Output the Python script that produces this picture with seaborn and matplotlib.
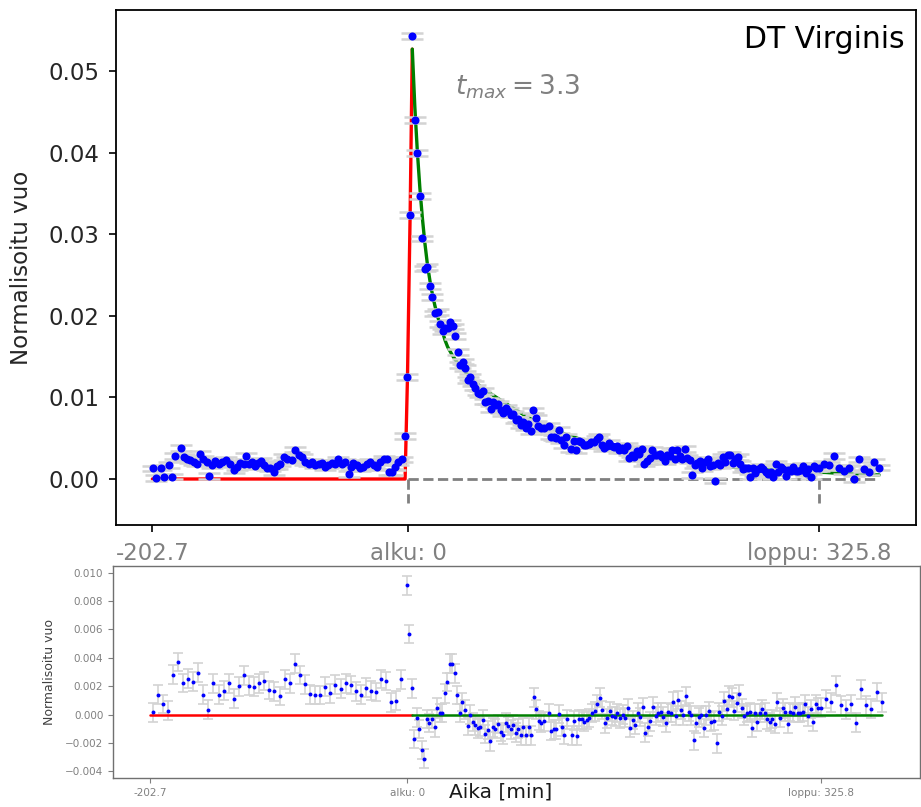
import numpy as np
import pandas as pd
import matplotlib
matplotlib.use("Agg")
import matplotlib.pyplot as plt
import seaborn as sns

nan = np.nan

# ---------------- data ----------------
TICK_T = [-202.7, 0.0, 325.8]
TICK_LABELS = ["-202.7", "alku: 0", "loppu: 325.8"]
T_MAX = 3.3
STAR = "DT Virginis"

# top panel, quiescent part before the flare (time [min], normalised flux)
top_pre_t = [-202.2, -199.5, -195.8, -193.2, -189.8, -187.1, -184.5, -180.0, -177.9, -175.2,
             -172.6, -170.0, -167.3, -164.7, -162.6, -159.4, -157.5, -155.3, -152.8, -150.2,
             -147.5, -144.1, -141.5, -138.3, -135.7, -133.0, -130.4, -128.3, -126.4, -123.8,
             -121.1, -119.3, -116.6, -114.0, -111.9, -109.3, -106.6, -104.0, -101.3, -98.7,
             -96.1, -92.1, -89.5, -86.8, -84.2, -81.6, -78.9, -76.3, -73.6, -71.0,
             -68.4, -65.7, -63.1, -60.4, -57.8, -55.2, -52.5, -49.9, -47.2, -45.4,
             -43.3, -40.6, -38.0, -35.4, -32.7, -30.1, -27.4, -24.8, -22.2, -19.5,
             -16.9, -14.8, -12.9, -10.3, -7.7, -5.0, -2.7]
top_pre_f = [0.0013, 0.0001, 0.0014, 0.0003, 0.0017, 0.0003, 0.0028, 0.0038, 0.0027, 0.0025,
             0.0023, 0.0021, 0.0019, 0.0031, 0.0025, 0.0021, 0.0004, 0.0017, 0.0022, 0.0019,
             0.0021, 0.0023, 0.0019, 0.0011, 0.0015, 0.0020, 0.0018, 0.0028, 0.0019, 0.0021,
             0.0016, 0.0020, 0.0022, 0.0017, 0.0014, 0.0013, 0.0009, 0.0016, 0.0019, 0.0027,
             0.0024, 0.0023, 0.0036, 0.0029, 0.0027, 0.0021, 0.0019, 0.0021, 0.0017, 0.0018,
             0.0020, 0.0015, 0.0017, 0.0020, 0.0018, 0.0024, 0.0019, 0.0021, 0.0006, 0.0015,
             0.0020, 0.0017, 0.0013, 0.0015, 0.0019, 0.0021, 0.0017, 0.0015, 0.0021, 0.0025,
             0.0024, 0.0009, 0.0009, 0.0015, 0.0021, 0.0024, 0.0053]

# flare rise / peak points
flare_t = [-0.7, 1.3, 3.3]
top_flare_f = [0.0125, 0.0324, 0.0543]
res_flare = [0.0091, 0.0057, 0.00185]

# decay phase, 2-min cadence from 5.3 to 325.3 min
top_decay_f = [0.0440, 0.0400, 0.0347, 0.0295, 0.0258, 0.0260, 0.0237, 0.0223, 0.0203, 0.0205,
               0.0190, 0.0181, 0.0185, 0.0185, 0.0192, 0.0187, 0.0175, 0.0156, 0.0140, 0.0144,
               0.0136, 0.0121, 0.0125, 0.0117, 0.0112, 0.0106, 0.0104, 0.0108, 0.0095, 0.0096,
               0.0086, 0.0094, 0.0091, 0.0092, 0.0085, 0.0081, 0.0087, 0.0083, 0.0079, 0.0080,
               0.0072, 0.0073, 0.0066, 0.0070, 0.0063, 0.0068, 0.0059, 0.0084, 0.0075, 0.0065,
               0.0062, 0.0062, nan, 0.0065, 0.0052, 0.0051, 0.0050, 0.0060, 0.0048, 0.0042,
               0.0052, nan, 0.0037, 0.0047, 0.0035, 0.0046, 0.0045, 0.0042, 0.0042, 0.0043,
               0.0045, 0.0045, 0.0049, 0.0052, 0.0042, 0.0038, 0.0040, 0.0044, 0.0040, 0.0039,
               0.0040, 0.0035, 0.0038, 0.0035, 0.0041, 0.0026, 0.0030, 0.0027, 0.0034, 0.0031,
               0.0037, 0.0019, 0.0022, 0.0026, 0.0036, 0.0029, 0.0030, 0.0031, 0.0027, 0.0022,
               0.0029, 0.0028, 0.0035, 0.0025, 0.0035, 0.0028, 0.0024, 0.0037, 0.0026, 0.0023,
               0.0005, 0.0017, 0.0020, 0.0022, 0.0013, 0.0021, 0.0024, 0.0016, 0.0017, -0.0002,
               0.0020, 0.0017, 0.0027, 0.0021, 0.0030, 0.0029, 0.0020, 0.0025, 0.0027, 0.0018,
               0.0012, 0.0014, 0.0014, 0.0003, 0.0013, 0.0007, 0.0012, 0.0015, 0.0012, 0.0008,
               0.0006, 0.0008, 0.0003, 0.0019, 0.0008, 0.0015, 0.0012, 0.0004, 0.0011, 0.0010,
               0.0015, 0.0010, 0.0010, 0.0011, 0.0016, 0.0007, 0.0012, 0.0003, 0.0016, 0.0013,
               0.0013]
res_decay = [-0.0017, -0.0002, -0.0010, -0.0025, -0.0031, -0.0003, -0.0006, -0.0003, -0.0009, 0.0005,
             0.0001, 0.0001, 0.0015, 0.0023, 0.0036, 0.0036, 0.0029, 0.0014, 0.0001, 0.0009,
             0.00035, -0.0008, 0.0000, -0.0005, -0.00075, -0.00096, -0.00087, -0.00035, -0.00136, -0.00108,
             -0.00188, -0.00089, -0.00099, -0.00066, -0.00122, -0.00141, -0.00056, -0.0008, -0.00103, -0.0007,
             -0.00127, -0.00099, -0.00146, -0.00089, -0.00146, -0.00085, -0.00146, 0.00122, 0.00038, -0.00042,
             -0.00056, -0.00047, nan, 0.00012, -0.00115, -0.00103, -0.00103, 0.00005, -0.00087, -0.00143,
             -0.00033, nan, -0.00146, -0.00042, -0.00148, -0.00033, -0.00033, -0.00049, -0.00038, -0.00023,
             0.0001, 0.00023, 0.00073, 0.0012, 0.00033, -0.00061, -0.00026, 0.00023, -0.0001, -0.00014,
             0.0001, -0.00026, 0.0, -0.0002, 0.00045, -0.00092, -0.00038, -0.00073, 0.00014, -0.00016,
             0.00054, -0.00127, -0.00087, -0.00047, 0.00056, -0.0001, 0.00014, 0.0002, -0.00014, -0.00056,
             0.00016, 0.00012, 0.00092, -0.00007, 0.00103, 0.00033, -0.00005, 0.00131, 0.0002, -0.00005,
             -0.00181, -0.00061, -0.00019, -0.00002, -0.00094, -0.00005, 0.00026, -0.00049, -0.00042, -0.00202,
             0.0002, -0.00007, 0.00094, 0.00038, 0.00134, 0.00122, 0.00028, 0.00085, 0.00143, 0.00045,
             -0.00007, 0.0001, 0.00019, -0.00094, 0.0001, -0.00052, 0.00012, 0.00038, 0.00014, -0.00033,
             -0.00052, -0.00031, -0.00066, 0.00089, -0.00021, 0.00045, 0.0002, -0.00063, 0.0002, 0.00012,
             0.00056, 0.00012, 0.00014, 0.0002, 0.00075, -0.00012, 0.0004, -0.00052, 0.00075, 0.00049,
             0.00049]

# after the flare end, 4-min cadence from 329.3 to 373.3 min
top_tail_f = [0.0019, 0.0017, 0.0028, 0.0014, 0.0010, 0.0014, 0.0000, 0.0024, 0.0012, 0.0009, 0.0021, 0.0014]
res_tail = [0.0011, 0.00087, 0.00207, 0.00066, 0.00038, 0.00075, -0.00056, 0.00178, 0.00066, 0.00042, 0.0016, 0.00087]

# residuals before the flare, 4-min cadence from -200.7 to -4.7 min
res_pre = [0.00016, 0.00141, 0.00077, 0.00028, 0.00282, 0.00371, 0.00223, 0.00254, 0.00232, 0.00296,
           0.00141, 0.00035, 0.00221, 0.00141, 0.00169, 0.00221, 0.00113, 0.00200, 0.00277, 0.00204,
           0.00197, 0.00221, 0.00237, 0.00174, 0.00164, 0.00131, 0.00249, 0.00221, 0.00359, 0.00279,
           0.00214, 0.00143, 0.00138, 0.00138, 0.00197, 0.00150, 0.00211, 0.00183, 0.00221, 0.00209,
           0.00164, 0.00141, 0.00190, 0.00169, 0.00160, 0.00251, 0.00237, 0.00087, 0.00099, 0.00249]

decay_t = np.arange(5.3, 326.0, 2.0)
tail_t = np.arange(329.3, 374.0, 4.0)
res_pre_t = np.arange(-200.7, -4.0, 4.0)

# fitted model curves (rise = red, decay = green)
rise_t = [-202.7, -2.4, -1.6, -0.5, 1.6, 3.3]
rise_f = [0.0, 0.0, 0.0053, 0.0125, 0.0324, 0.0527]
decay_model_t = [3.3, 5.3, 7.3, 9.3, 11.3, 13.3, 15.3, 17.3, 19.3, 21.3,
                 23.3, 25.3, 27.3, 29.3, 31.3, 35.3, 39.3, 46.0, 54.4, 63.0,
                 73.0, 85.0, 99.0, 112.0, 126.0, 140.0, 152.0, 165.0, 178.0, 200.0,
                 231.0, 260.0, 284.0, 310.0, 331.0, 350.0, 373.3]
decay_model_f = [0.0527, 0.0457, 0.0402, 0.0357, 0.0320, 0.0289, 0.0263, 0.0243, 0.0226, 0.0212,
                 0.0200, 0.0189, 0.0180, 0.0170, 0.0162, 0.0151, 0.0142, 0.0130, 0.0117, 0.0107,
                 0.0097, 0.0085, 0.0072, 0.0063, 0.0054, 0.0047, 0.0042, 0.0037, 0.0032, 0.0025,
                 0.0019, 0.0014, 0.0011, 0.0009, 0.0008, 0.0006, 0.0005]

ERR_TOP = 0.00035
ERR_BOT = 0.00065
BASE_DROP = -0.003

# ---------------- figure ----------------
sns.set_theme(style="ticks")
plt.rcParams['font.family'] = ['DejaVu Sans']
plt.rcParams['mathtext.fontset'] = 'dejavusans'

W, H = 921, 807
fig = plt.figure(figsize=(W / 100, H / 100), dpi=100)
ax1 = fig.add_axes([116 / W, 1 - 525 / H, 800 / W, 515 / H])
ax2 = fig.add_axes([113 / W, 1 - 778 / H, 807 / W, 212 / H])

top = pd.DataFrame({
    "t": np.concatenate([top_pre_t, flare_t, decay_t, tail_t]),
    "f": np.concatenate([top_pre_f, top_flare_f, top_decay_f, top_tail_f]),
})
bot = pd.DataFrame({
    "t": np.concatenate([res_pre_t, flare_t, decay_t, tail_t]),
    "r": np.concatenate([res_pre, res_flare, res_decay, res_tail]),
})
t_end = float(tail_t[-1])

# --- top panel ---
dash = dict(color='gray', lw=2.0, ls='--', zorder=1)
ax1.plot([TICK_T[1], t_end], [0, 0], **dash)
ax1.plot([TICK_T[1], TICK_T[1]], [0, BASE_DROP], **dash)
ax1.plot([TICK_T[2], TICK_T[2]], [0, BASE_DROP], **dash)
sns.lineplot(x=rise_t, y=rise_f, ax=ax1, color='red', lw=2.4, estimator=None, sort=False, zorder=1.5)
sns.lineplot(x=decay_model_t, y=decay_model_f, ax=ax1, color='green', lw=2.4, estimator=None,
             sort=False, zorder=1.5)
ax1.errorbar(top["t"], top["f"], yerr=ERR_TOP, fmt='none', ecolor='#d3d3d3', elinewidth=1.2,
             capsize=8, capthick=1.8, zorder=2)
sns.scatterplot(data=top, x='t', y='f', ax=ax1, color='blue', s=34, linewidth=0, zorder=3)

ax1.set_xlim(-231.5, 402.5)
ax1.set_ylim(-0.00564, 0.0575)
ax1.set_xticks(TICK_T)
ax1.set_xticklabels(TICK_LABELS)
yt = [0.0, 0.01, 0.02, 0.03, 0.04, 0.05]
ax1.set_yticks(yt)
ax1.set_yticklabels([f"{v:.2f}" for v in yt])
ax1.tick_params(axis='x', colors='black', labelcolor='gray', labelsize=16.5, length=5, width=1.2, pad=7)
ax1.tick_params(axis='y', colors='black', labelcolor='#262626', labelsize=16.5, length=5, width=1.2, pad=7)
for sp in ax1.spines.values():
    sp.set_color('black')
    sp.set_linewidth(1.3)
ax1.set_xlabel("")
ax1.set_ylabel("Normalisoitu vuo", fontsize=16.5, color='#262626')
ax1.yaxis.set_label_coords(-0.104, 0.5)
ax1.text(0.986, 0.926, STAR, transform=ax1.transAxes, ha='right', va='baseline',
         fontsize=21.5, color='black')
ax1.text(37.2, 0.0472, rf"$t_{{max}} = {T_MAX}$", ha='left', va='baseline', fontsize=19, color='gray')

# --- bottom panel (residuals) ---
ax2.errorbar(bot["t"], bot["r"], yerr=ERR_BOT, fmt='none', ecolor='#d3d3d3', elinewidth=1.2,
             capsize=3.5, capthick=1.2, zorder=1)
sns.lineplot(x=[TICK_T[0], T_MAX], y=[0, 0], ax=ax2, color='red', lw=1.8, zorder=2)
sns.lineplot(x=[T_MAX, t_end], y=[0, 0], ax=ax2, color='green', lw=1.8, zorder=2)
sns.scatterplot(data=bot, x='t', y='r', ax=ax2, color='blue', s=8, linewidth=0, zorder=3)

ax2.set_xlim(-231.8, 403.5)
ax2.set_ylim(-0.00446, 0.01047)
ax2.set_xticks(TICK_T)
ax2.set_xticklabels(TICK_LABELS)
yt2 = [-0.004, -0.002, 0.0, 0.002, 0.004, 0.006, 0.008, 0.010]
ax2.set_yticks(yt2)
ax2.set_yticklabels([f"{v:.3f}".replace("-", "\u2212") if abs(v) > 1e-12 else "0.000" for v in yt2])
ax2.tick_params(axis='both', colors='#808080', labelcolor='#808080', labelsize=7.5, length=3.5, width=0.8)
for sp in ax2.spines.values():
    sp.set_color('#707070')
    sp.set_linewidth(1.0)
ax2.set_xlabel("")
ax2.set_ylabel("Normalisoitu vuo", fontsize=9, color='#404040')
ax2.yaxis.set_label_coords(-0.0706, 0.5)

fig.text(501 / W, 1 - 792 / H, "Aika [min]", ha='center', va='center', fontsize=14.5, color='#1a1a1a')

fig.savefig("out.png", dpi=100)
